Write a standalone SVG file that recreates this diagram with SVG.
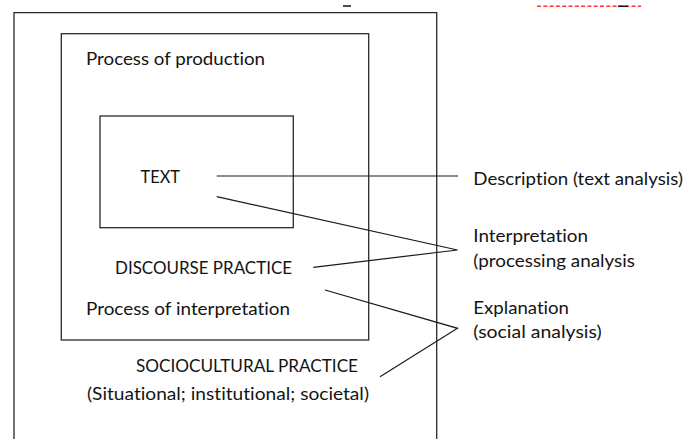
<svg xmlns="http://www.w3.org/2000/svg" width="685" height="439" viewBox="0 0 685 439">
<style>
.box{fill:none;stroke:#2a2a2a;stroke-width:1.3}
.ln{fill:none;stroke:#1a1a1a;stroke-width:1.2}
text{font-family:Lato,"Open Sans","Liberation Sans",sans-serif;font-size:16.5px;fill:#141414;font-variant-ligatures:none;font-feature-settings:"liga" 0,"clig" 0}
</style>
<rect width="685" height="439" fill="#fff"/>
<g id="marks">
<line x1="343" y1="6" x2="351" y2="6" stroke="#111" stroke-width="1.5"/>
<line x1="537" y1="6.3" x2="641" y2="6.3" stroke="#f33" stroke-width="1.4" stroke-dasharray="4 2.3"/>
<line x1="618" y1="6.3" x2="628" y2="6.3" stroke="#111" stroke-width="1.5"/>
</g>
<g id="sociocultural">
<path class="box" d="M14,439 V12.7 H436.7 V439"/>
<text x="136" y="371.5" textLength="222" lengthAdjust="spacingAndGlyphs">SOCIOCULTURAL PRACTICE</text>
<text x="87" y="400" textLength="282" lengthAdjust="spacingAndGlyphs">(Situational; institutional; societal)</text>
</g>
<g id="discourse">
<rect class="box" x="61.3" y="33.7" width="307.4" height="306.3"/>
<text x="86" y="65" textLength="179" lengthAdjust="spacingAndGlyphs">Process of production</text>
<text x="115" y="274" textLength="177" lengthAdjust="spacingAndGlyphs">DISCOURSE PRACTICE</text>
<text x="86" y="315" textLength="204" lengthAdjust="spacingAndGlyphs">Process of interpretation</text>
</g>
<g id="text-node">
<rect class="box" x="100" y="116" width="193.3" height="111.7"/>
<text x="140.5" y="182.5" textLength="39.5" lengthAdjust="spacingAndGlyphs">TEXT</text>
</g>
<g id="description">
<text x="473.3" y="185" textLength="209.7" lengthAdjust="spacingAndGlyphs">Description (text analysis)</text>
</g>
<g id="interpretation">
<text x="473.3" y="241.7" textLength="114.7" lengthAdjust="spacingAndGlyphs">Interpretation</text>
<text x="473.3" y="266.7" textLength="161.7" lengthAdjust="spacingAndGlyphs">(processing analysis</text>
</g>
<g id="explanation">
<text x="473.3" y="314" textLength="95.7" lengthAdjust="spacingAndGlyphs">Explanation</text>
<text x="473.3" y="338" textLength="128.4" lengthAdjust="spacingAndGlyphs">(social analysis)</text>
</g>
<g id="connectors">
<line class="ln" x1="216.7" y1="176" x2="458" y2="176"/>
<polyline class="ln" points="216.7,196.7 457.5,250 313.3,267.3"/>
<polyline class="ln" points="325,290 457.5,328.3 380,376.7"/>
</g>
</svg>
